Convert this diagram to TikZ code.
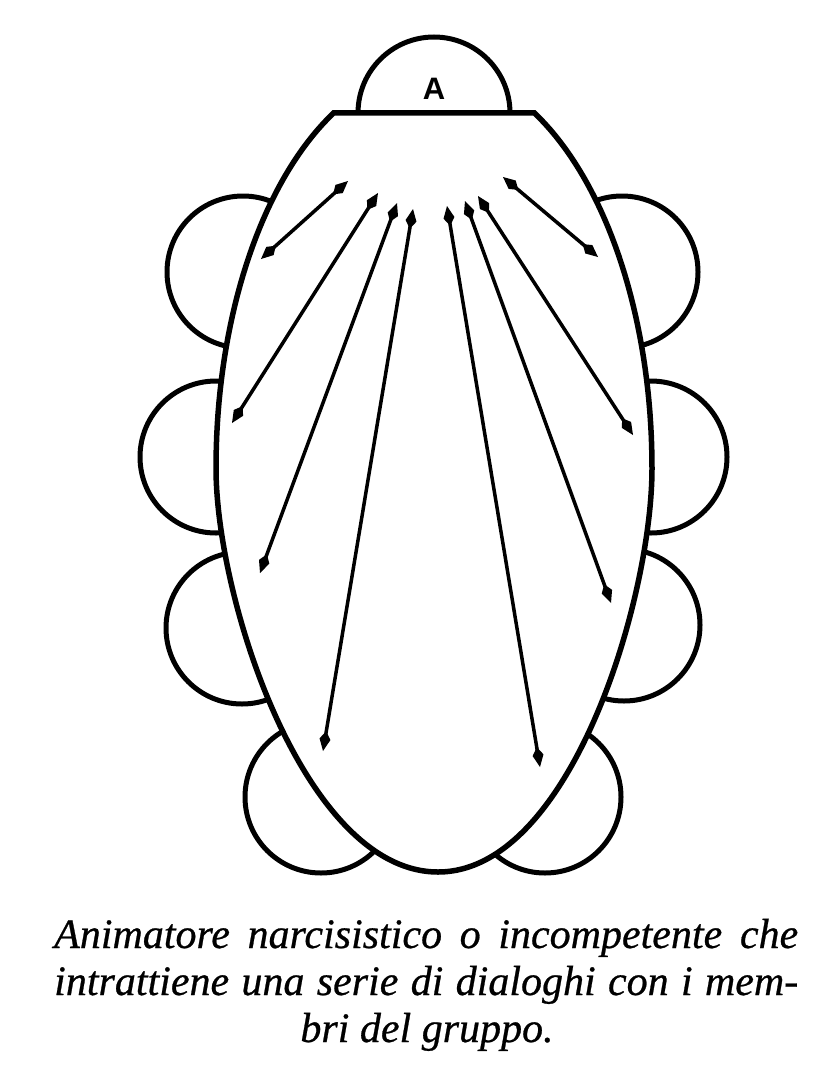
\documentclass[tikz,border=0pt]{standalone}
\usepackage{fontspec}
\setmainfont{Liberation Serif}
\newfontfamily\capfont{Liberation Serif}[ItalicFeatures={FakeBold=0.6}]
\newfontfamily\labelfont{Liberation Sans}
\usetikzlibrary{arrows.meta}
\tikzset{
  member/.style={draw=black, line width=5pt, circle, minimum size=152pt, inner sep=0pt},
  bodyline/.style={draw=black, fill=white, line width=5.5pt},
  dialog/.style={line width=3.5pt, {Kite[length=20pt,width=11pt,inset=8pt]}-{Kite[length=20pt,width=11pt,inset=8pt]}},
  captionline/.style={anchor=base west, inner sep=0pt, font=\capfont\fontsize{42}{47}\selectfont\itshape},
}
\begin{document}
\begin{tikzpicture}[x=1pt,y=-1pt]
\path[use as bounding box] (0,0) rectangle (815,1092);
% member circles
\node[member] (L1) at (243,272) {};
\node[member] (L2) at (216,457) {};
\node[member] (L3) at (242,628) {};
\node[member] (L4) at (321,797) {};
\node[member] (R1) at (622,272) {};
\node[member] (R2) at (651,457) {};
\node[member] (R3) at (624,625) {};
\node[member] (R4) at (545,797) {};
\node[member] (A) at (434,113) {};
% body (group space)
\path[bodyline] plot[domain=117.4:180, samples=40] ({434+218*cos(\x)},{468-400*sin(\x)})
  .. controls (216,600) and (305,872) .. (438,872)
  .. controls (570,872) and (652,600) .. (652,468)
  -- plot[domain=0:62.6, samples=40] ({434+218*cos(\x)},{468-400*sin(\x)}) -- cycle;
\node[font=\labelfont\bfseries\fontsize{31}{31}\selectfont, inner sep=0pt] (Alabel) at (434,89) {A};
% dialog arrows
\coordinate (l1a) at (348,181); \coordinate (l1b) at (261,259);
\coordinate (l2a) at (378,193); \coordinate (l2b) at (232,423);
\coordinate (l3a) at (397,203); \coordinate (l3b) at (260,573);
\coordinate (l4a) at (413,209); \coordinate (l4b) at (323,751);
\coordinate (r4a) at (447,206); \coordinate (r4b) at (540,767);
\coordinate (r3a) at (465,201); \coordinate (r3b) at (611,603);
\coordinate (r2a) at (478,196); \coordinate (r2b) at (633,435);
\coordinate (r1a) at (503,177); \coordinate (r1b) at (598,257);
\draw[dialog] (l1a) -- (l1b);
\draw[dialog] (l2a) -- (l2b);
\draw[dialog] (l3a) -- (l3b);
\draw[dialog] (l4a) -- (l4b);
\draw[dialog] (r4a) -- (r4b);
\draw[dialog] (r3a) -- (r3b);
\draw[dialog] (r2a) -- (r2b);
\draw[dialog] (r1a) -- (r1b);
% caption
\node[captionline] (c1) at (54,948) {\makebox[744pt][s]{Animatore narcisistico o incompetente che}};
\node[captionline] (c2) at (54,995) {\makebox[744pt][s]{intrattiene una serie di dialoghi con i mem-}};
\node[captionline, anchor=base] (c3) at (427,1042) {bri del gruppo.};
\end{tikzpicture}
\end{document}
